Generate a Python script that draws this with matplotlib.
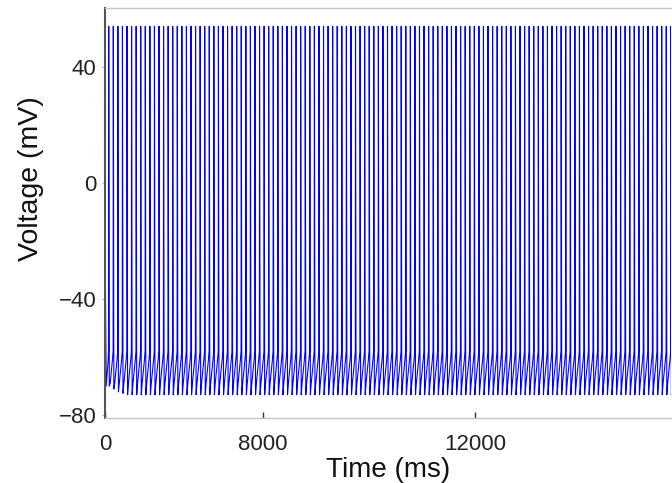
import numpy as np
import matplotlib
matplotlib.use("Agg")
import matplotlib.pyplot as plt

# start of the trace (ms, mV) before regular firing sets in
start_t = [0, 60, 150]
start_v = [-16, -70, -62]

# one firing cycle: phase within the period and voltage
cycle_phase = [0.0, 0.04, 0.09, 0.16, 0.35, 0.6, 0.85, 1.0]
cycle_v = [-58, 54, -5, -73, -69, -65, -61, -58]

# the first troughs sit a bit higher than the steady ones
early_troughs = [-70, -71, -72, -72.5]

first_spike = 180.0   # ms
period = 231.4        # ms
n_spikes = 124

xtick_pos = [0, 8000, 18730]
xtick_labels = ["0", "8000", "12000"]
ytick_pos = [-80, -40, 0, 40]
ytick_labels = ["\u221280", "\u221240", "0", "40"]

# build the trace cycle by cycle
t = list(start_t)
v = list(start_v)
for k in range(n_spikes):
    vals = list(cycle_v)
    if k < len(early_troughs):
        vals[3] = early_troughs[k]
    for ph, val in zip(cycle_phase[:-1], vals[:-1]):
        t.append(first_spike + (k + ph) * period)
        v.append(val)
t = np.array(t)
v = np.array(v)

plt.rcParams['font.family'] = ['Liberation Sans', 'DejaVu Sans']

fig = plt.figure(figsize=(6.72, 4.83), dpi=100)
ax = fig.add_axes([105 / 672, 65 / 483, 566 / 672, 410 / 483])

ax.plot(t, v, color='#0000ff', lw=0.8)

ax.set_xlim(0, 28660)
ax.set_ylim(-81, 60.3)

ax.set_xticks(xtick_pos)
ax.set_xticklabels(xtick_labels)
ax.set_yticks(ytick_pos)
ax.set_yticklabels(ytick_labels)

ax.tick_params(axis='x', direction='in', length=4, width=1, color='#333333',
               labelsize=16, labelcolor='#222222', pad=11.5)
ax.tick_params(axis='y', direction='out', length=2, width=0.8, color='#bbbbbb',
               labelsize=16, labelcolor='#222222', pad=4)

for side in ['top', 'bottom']:
    ax.spines[side].set_color('#c4c4c4')
    ax.spines[side].set_linewidth(1.0)
ax.spines['left'].set_color('#555555')
ax.spines['left'].set_linewidth(1.5)
ax.spines['right'].set_visible(False)

ax.set_xlabel("Time (ms)", fontsize=20, color='#111111')
ax.set_ylabel("Voltage (mV)", fontsize=20.5, color='#111111')
ax.xaxis.set_label_coords(0.5, -0.094)
ax.yaxis.set_label_coords(-0.107, 0.585)

fig.savefig("out.png", dpi=100)
